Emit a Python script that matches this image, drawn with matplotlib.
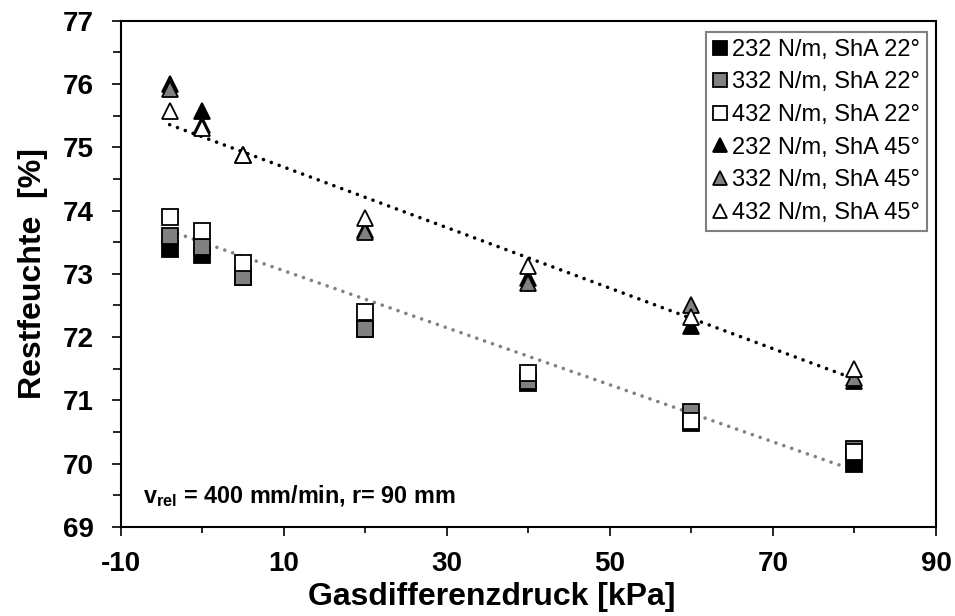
"""Restfeuchte vs. Gasdifferenzdruck, squares (ShA 22) and triangles (ShA 45)."""

import numpy as np
import matplotlib
matplotlib.use("Agg")
import matplotlib.pyplot as plt

plt.rcParams["font.family"] = ["Liberation Sans", "DejaVu Sans"]
plt.rcParams["axes.unicode_minus"] = False
plt.rcParams["mathtext.fontset"] = "custom"
plt.rcParams["mathtext.bf"] = "Liberation Sans:bold"
plt.rcParams["mathtext.rm"] = "Liberation Sans:bold"
plt.rcParams["mathtext.it"] = "Liberation Sans:bold"

# Gasdifferenzdruck [kPa]
dp = [-4, 0, 5, 20, 40, 60, 80]

# Restfeuchte [%]
sq_232_22 = [73.39, 73.30, 72.95, 72.13, 71.27, 70.64, 70.00]
sq_332_22 = [73.60, 73.42, 72.95, 72.13, 71.30, 70.81, 70.24]
sq_432_22 = [73.90, 73.68, 73.17, 72.39, 71.44, 70.68, 70.18]
tr_232_45 = [76.00, 75.58, 74.87, 73.70, 72.93, 72.17, 71.30]
tr_332_45 = [75.92, 75.35, 74.87, 73.66, 72.86, 72.50, 71.35]
tr_432_45 = [75.57, 75.30, 74.87, 73.88, 73.12, 72.31, 71.49]

series = [
    (sq_232_22, "s", "black", "232 N/m, ShA 22°"),
    (sq_332_22, "s", "#808080", "332 N/m, ShA 22°"),
    (sq_432_22, "s", "white", "432 N/m, ShA 22°"),
    (tr_232_45, "^", "black", "232 N/m, ShA 45°"),
    (tr_332_45, "^", "#808080", "332 N/m, ShA 45°"),
    (tr_432_45, "^", "white", "432 N/m, ShA 45°"),
]

fig = plt.figure(figsize=(9.55, 6.16), dpi=100)
ax = fig.add_axes([0.1264, 0.1445, 0.8537, 0.822])

# linear trend lines (fit of the 432 N/m series)
xfit = np.array([dp[0], dp[-1]])
for ys, col in [(sq_432_22, "#808080"), (tr_432_45, "black")]:
    k, d = np.polyfit(dp, ys, 1)
    ax.plot(xfit, k * xfit + d, color=col, lw=2.6, dashes=(0.01, 2.3),
            dash_capstyle="round", zorder=2)

for ys, mk, fc, lab in series:
    ax.plot(dp, ys, linestyle="none", marker=mk, ms=11.5, mfc=fc, mec="black",
            mew=1.3, label=lab, zorder=3)

ax.set_xlim(-10, 90)
ax.set_ylim(69, 77)
ax.set_xticks(np.arange(-10, 91, 20))
ax.set_xticks(np.arange(0, 81, 20), minor=True)
ax.set_yticks(np.arange(69, 78, 1))
ax.set_yticks(np.arange(69.5, 77, 1), minor=True)

ax.tick_params(axis="both", which="major", direction="out", length=6.5, width=1.2,
               labelsize=20, pad=11)
ax.tick_params(axis="x", which="minor", direction="out", length=4, width=1.2)
ax.tick_params(axis="y", which="minor", direction="out", length=6, width=1.2)
ax.tick_params(axis="y", which="major", pad=13)
for lab in ax.get_xticklabels() + ax.get_yticklabels():
    lab.set_fontweight("bold")
for sp in ax.spines.values():
    sp.set_linewidth(1.5)

ax.set_xlabel("Gasdifferenzdruck [kPa]", fontsize=23, fontweight="bold")
ax.xaxis.label.set_va("baseline")
ax.xaxis.set_label_coords(0.455, -0.154)
ax.set_ylabel("Restfeuchte  [%]", fontsize=23, fontweight="bold")
ax.yaxis.label.set_va("center")
ax.yaxis.set_label_coords(-0.1076, 0.5)

ax.text(0.0274, 0.0474, r"$\mathbf{v_{rel}}$ = 400 mm/min, r= 90 mm",
        transform=ax.transAxes, fontsize=16.8, fontweight="bold", va="baseline")

leg = ax.legend(loc="upper right", bbox_to_anchor=(0.989, 0.978), borderaxespad=0,
                fontsize=17, frameon=True, fancybox=False, framealpha=1,
                edgecolor="#808080", markerscale=0.85, handlelength=0.6,
                handletextpad=0.2, labelspacing=0.45, borderpad=0.3)
leg.get_frame().set_linewidth(1.5)

fig.savefig("out.png", dpi=100)
